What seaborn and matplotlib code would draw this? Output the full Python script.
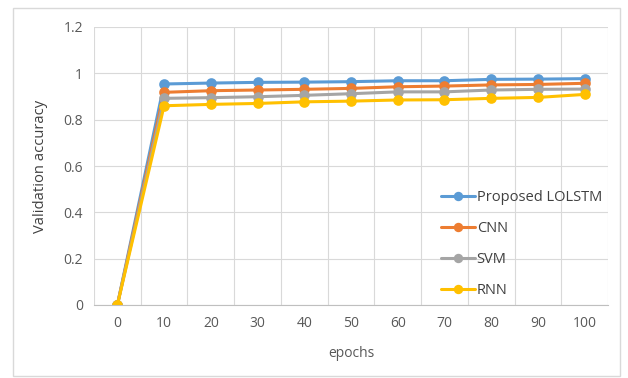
import matplotlib
matplotlib.use("Agg")
import matplotlib.pyplot as plt
import seaborn as sns
import pandas as pd
from matplotlib.patches import Rectangle

epochs = [0, 10, 20, 30, 40, 50, 60, 70, 80, 90, 100]
lolstm = [0.0, 0.954, 0.958, 0.961, 0.962, 0.964, 0.968, 0.968, 0.974, 0.975, 0.977]
cnn = [0.0, 0.918, 0.925, 0.928, 0.931, 0.935, 0.942, 0.945, 0.950, 0.952, 0.957]
svm = [0.0, 0.892, 0.895, 0.899, 0.905, 0.912, 0.920, 0.920, 0.928, 0.931, 0.932]
rnn = [0.0, 0.860, 0.866, 0.870, 0.877, 0.880, 0.885, 0.886, 0.892, 0.896, 0.909]
names = ["Proposed LOLSTM", "CNN", "SVM", "RNN"]
colors = ["#5B9BD5", "#ED7D31", "#A5A5A5", "#FFC000"]

rows = []
for name, vals in zip(names, [lolstm, cnn, svm, rnn]):
    for e, v in zip(epochs, vals):
        rows.append({"epochs": str(e), "acc": v, "model": name})
df = pd.DataFrame(rows)

sns.set_theme(style="white")
plt.rcParams["font.family"] = ["Open Sans", "DejaVu Sans"]

fig = plt.figure(figsize=(6.28, 3.78), dpi=100)
ax = fig.add_axes([94/628, 1-305/378, (608-94)/628, (305-27)/378])

sns.pointplot(data=df, x="epochs", y="acc", hue="model", order=[str(e) for e in epochs],
              hue_order=names, palette=colors, markers="o", linewidth=2.2,
              markersize=6, ax=ax, errorbar=None)

ax.set_xlim(-0.5, len(epochs) - 0.5)
ax.set_ylim(0, 1.2)
ax.set_yticks([0, 0.2, 0.4, 0.6, 0.8, 1.0, 1.2])
ax.set_yticklabels(["0", "0.2", "0.4", "0.6", "0.8", "1", "1.2"])
ax.set_xticks(range(len(epochs)))
ax.set_xticklabels([str(e) for e in epochs])
ax.set_xticks([i - 0.5 for i in range(len(epochs) + 1)], minor=True)
ax.grid(False)
ax.yaxis.grid(True, color="#D9D9D9", linewidth=0.8)
ax.xaxis.grid(True, which="minor", color="#D9D9D9", linewidth=0.8)
ax.set_axisbelow(True)
for s in ["top", "right", "left"]:
    ax.spines[s].set_visible(False)
ax.spines["bottom"].set_color("#BFBFBF")
ax.spines["bottom"].set_linewidth(0.8)
ax.tick_params(axis="both", which="both", length=0, labelsize=10, colors="#595959", pad=8)
ax.set_xlabel("epochs", fontsize=10, color="#595959", labelpad=11)
ax.set_ylabel("Validation accuracy", fontsize=10.6, color="#404040", labelpad=11)

leg = ax.legend(loc="upper left", bbox_to_anchor=(441/628, 1-190/378),
                bbox_transform=fig.transFigure, frameon=False, fontsize=10.5,
                handlelength=2.3, handletextpad=0.15, labelspacing=1.1,
                borderpad=0, borderaxespad=0, markerscale=0.85)
for t in leg.get_texts():
    t.set_color("#404040")

fig.patches.append(Rectangle((13/628, 2/378), (620-13)/628, (370-2)/378,
                             transform=fig.transFigure, fill=False,
                             edgecolor="#D9D9D9", linewidth=1))

fig.savefig("out.png", dpi=100)
